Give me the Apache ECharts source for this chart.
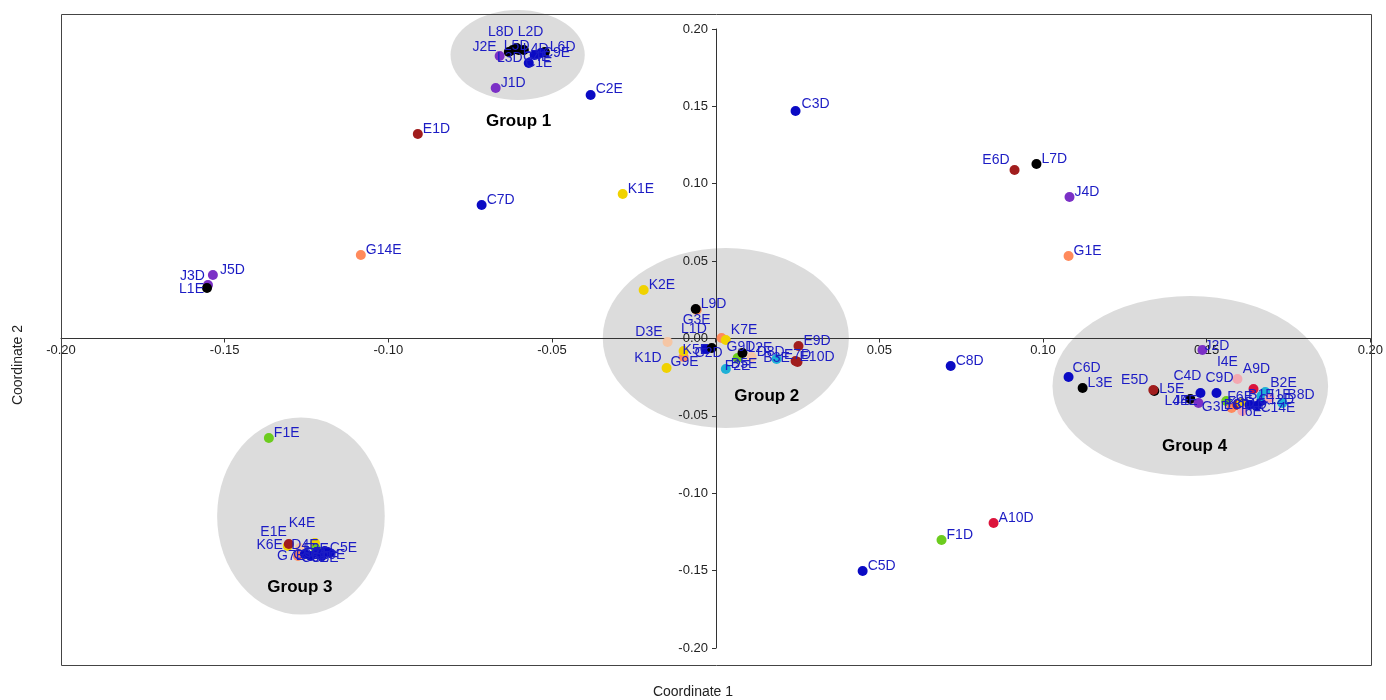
<!DOCTYPE html>
<html>
<head>
<meta charset="utf-8">
<title>PCoA – Coordinate 1 vs Coordinate 2</title>
<script src="https://cdn.jsdelivr.net/npm/echarts@6/dist/echarts.min.js"></script>
<style>
  html, body { margin: 0; padding: 0; background: #fff; }
  #chart { width: 1386px; height: 700px; }
</style>
</head>
<body>
<div id="chart"></div>
<script>
// ---- Sample coordinates [name, coordinate 1, coordinate 2] ----
const loosePoints = [
  ['E1D', -0.0910, 0.1321], ['C2E', -0.0382, 0.1573], ['C3D', 0.0244, 0.1470],
  ['C7D', -0.0715, 0.0863], ['K1E', -0.0284, 0.0934], ['G14E', -0.1084, 0.0540],
  ['J5D', -0.1536, 0.0410], ['J3D', -0.1551, 0.0346], ['L1E', -0.1554, 0.0326],
  ['K2E', -0.0220, 0.0313], ['E6D', 0.0913, 0.1089], ['L7D', 0.0980, 0.1128],
  ['J4D', 0.1081, 0.0914], ['G1E', 0.1078, 0.0533], ['C8D', 0.0718, -0.0178],
  ['C6D', 0.1078, -0.0249], ['L3E', 0.1121, -0.0320], ['L5E', 0.1340, -0.0339],
  ['E5D', 0.1337, -0.0333], ['C5D', 0.0449, -0.1502], ['F1D', 0.0690, -0.1302],
  ['A10D', 0.0849, -0.1192], ['F1E', -0.1365, -0.0643], ['J1D', -0.0672, 0.1619]
];
const group1Points = [
  ['J2E', -0.0660, 0.1826], ['L3D', -0.0632, 0.1851], ['L8D', -0.0620, 0.1864],
  ['L5D', -0.0608, 0.1877], ['L2D', -0.0602, 0.1864], ['L4D', -0.0586, 0.1864],
  ['L6D', -0.0522, 0.1851], ['C4E', -0.0553, 0.1832], ['C9E', -0.0534, 0.1845],
  ['C1E', -0.0571, 0.1780]
];
const group2Points = [
  ['G3E', -0.0058, 0.0184], ['L9D', -0.0061, 0.0191], ['D3E', -0.0147, -0.0023],
  ['K1D', -0.0150, -0.0191], ['G9E', -0.0098, -0.0120], ['K5E', -0.0098, -0.0081],
  ['C2D', -0.0031, -0.0068], ['L1D', -0.0012, -0.0061], ['G9D', 0.0018, 0.0003],
  ['K7E', 0.0031, -0.0010], ['F2E', 0.0067, -0.0126], ['L2E', 0.0082, -0.0094],
  ['D8D', 0.0110, -0.0120], ['B3E', 0.0186, -0.0132], ['E9D', 0.0253, -0.0048],
  ['E7D', 0.0244, -0.0145], ['E10D', 0.0250, -0.0152], ['B5E', 0.0031, -0.0197]
];
const group3Points = [
  ['K6E', -0.1307, -0.1341], ['E1E', -0.1304, -0.1328], ['K4E', -0.1224, -0.1321],
  ['F3E', -0.1221, -0.1360], ['D4E', -0.1270, -0.1354], ['G7E', -0.1276, -0.1405],
  ['C3E', -0.1255, -0.1393], ['C6E', -0.1237, -0.1405], ['C7E', -0.1218, -0.1386],
  ['C8E', -0.1203, -0.1405], ['C5E', -0.1194, -0.1373], ['C10E', -0.1179, -0.1386]
];
const group4Points = [
  ['J2D', 0.1487, -0.0074], ['I4E', 0.1594, -0.0262], ['A9D', 0.1643, -0.0326],
  ['C4D', 0.1481, -0.0352], ['C9D', 0.1530, -0.0352], ['L4E', 0.1450, -0.0391],
  ['J4E', 0.1475, -0.0417], ['F6E', 0.1560, -0.0404], ['G3D', 0.1576, -0.0449],
  ['E8D', 0.1594, -0.0430], ['K8D', 0.1606, -0.0417], ['I6E', 0.1609, -0.0468],
  ['C11D', 0.1631, -0.0430], ['C14E', 0.1652, -0.0436], ['C12D', 0.1667, -0.0404],
  ['B1E', 0.1667, -0.0372], ['B2E', 0.1679, -0.0346], ['I1E', 0.1692, -0.0384],
  ['B8D', 0.1731, -0.0417]
];

// ---- Group outlines ----
const groupNames = ['Group 1', 'Group 2', 'Group 3', 'Group 4'];
const groupCentres = [[-0.0605, 0.1832], [0.0031, 0.0003], [-0.1267, -0.1147], [0.1450, -0.0307]];
const groupRadii = [[0.0205, 0.0291], [0.0376, 0.0582], [0.0256, 0.0637], [0.0421, 0.0582]];
const groupLabelAt = [[-0.0602, 0.1405], [0.0156, -0.0372], [-0.1270, -0.1606], [0.1463, -0.0695]];

// ---- Axis ticks ----
const axisMin = -0.2, axisMax = 0.2, axisStep = 0.05;

// ---- Styling ----
const sampleColors = {
  A: '#dc143c', B: '#1eb0d6', C: '#0a0ac4', D: '#f5c6a5', E: '#a11d1d', F: '#6ccc1e',
  G: '#ff8a5c', I: '#f3a8b1', J: '#7b30c6', K: '#f0d200', L: '#000000'
};
// label placement per sample: [position, dx, dy]
const labelPlacement = {
  'C3D': ['right', 1, -7], 'C2E': ['right', 0, -6], 'E6D': ['left', 0, -10],
  'J3D': ['left', 2, -9], 'L1E': ['left', 2, 1], 'J5D': ['right', 2, -5],
  'J2E': ['left', 2, -9], 'L8D': ['top', -12, -6], 'L2D': ['top', 12, -6],
  'L3D': ['inside', 1, 6], 'L4D': ['right', -6, -1], 'C1E': ['inside', 10, 0],
  'C4E': ['inside', 2, 2], 'C9E': ['right', -3, 0], 'L5D': ['inside', 0, -2],
  'G3E': ['bottom', 0, -2], 'D3E': ['left', 0, -10], 'K1D': ['left', 0, -10],
  'G9E': ['inside', 1, 5], 'K5E': ['right', -6, -1], 'C2D': ['inside', 3, 4],
  'L1D': ['left', 0, -19], 'G9D': ['right', 0, 9], 'K7E': ['right', 0, -10],
  'B3E': ['inside', 0, -1], 'E7D': ['inside', 2, -6], 'E10D': ['right', -3, -5],
  'F2E': ['bottom', 0, -4], 'E1E': ['left', 3, -12], 'K6E': ['left', 0, -1],
  'K4E': ['top', -13, -8], 'D4E': ['inside', 5, -3], 'G7E': ['inside', -7, 0],
  'C3E': ['inside', 2, 1], 'C6E': ['inside', 4, 2], 'C7E': ['inside', 0, 0],
  'C8E': ['inside', 3, 2], 'C10E': ['inside', -2, 2], 'C5E': ['right', 0, -3],
  'F3E': ['inside', 0, 0], 'I4E': ['top', -10, -5], 'A9D': ['top', 3, -8],
  'C4D': ['left', 6, -17], 'C9D': ['top', 3, -3], 'L4E': ['left', 4, 2],
  'J4E': ['left', 4, -2], 'G3D': ['left', 4, -1], 'F6E': ['right', -4, -4],
  'E8D': ['inside', 0, 0], 'K8D': ['inside', 0, 0], 'I6E': ['inside', 9, 1],
  'C11D': ['inside', 0, 0], 'C14E': ['right', -1, 2], 'C12D': ['right', -8, -1],
  'B1E': ['inside', 0, -1], 'B2E': ['right', 0, -9], 'I1E': ['right', -4, -3],
  'B8D': ['right', 0, -8], 'C6D': ['right', -1, -9], 'E5D': ['left', 0, -10],
  'L5E': ['right', 0, -2], 'J2D': ['right', -3, -4]
};
const defaultPlacement = ['right', 0, -5];

const FONT = '"Liberation Sans", Arial, sans-serif';

// plot area in pixels; the axes cross at the centre of it
const GRID = { left: 61, right: 15, top: 29, bottom: 52 };
const plotW = 1386 - GRID.left - GRID.right;
const plotH = 700 - GRID.top - GRID.bottom;

const allPoints = [].concat(loosePoints, group1Points, group2Points, group3Points, group4Points);
const placements = allPoints.map(p => labelPlacement[p[0]] || defaultPlacement);

const scatterData = allPoints.map((p, i) => ({
  name: p[0],
  value: [p[1], p[2]],
  itemStyle: { color: sampleColors[p[0][0]], opacity: 1 },
  label: { position: placements[i][0] }
}));

const groupData = groupNames.map((g, i) => ({
  name: g,
  value: [groupCentres[i][0], groupCentres[i][1], groupRadii[i][0], groupRadii[i][1],
          groupLabelAt[i][0], groupLabelAt[i][1]]
}));

function tickText(v) {
  if (Math.abs(v) < 1e-9) return '0.00';
  return v.toFixed(2);
}

const chart = echarts.init(document.getElementById('chart'), null, { renderer: 'canvas' });

chart.setOption({
  animation: false,
  backgroundColor: '#ffffff',
  grid: { left: GRID.left, right: GRID.right, top: GRID.top, bottom: GRID.bottom, containLabel: false },
  xAxis: {
    type: 'value', min: axisMin, max: axisMax, interval: axisStep,
    position: 'bottom', offset: -plotH / 2,
    axisLine: { onZero: false, lineStyle: { color: '#333', width: 1 } },
    axisTick: { show: true, length: 4, lineStyle: { color: '#333' } },
    splitLine: { show: false },
    axisLabel: {
      margin: 5, fontSize: 13, color: '#222', fontFamily: FONT,
      formatter: v => (Math.abs(v) < 1e-9 ? '' : tickText(v))
    }
  },
  yAxis: {
    type: 'value', min: axisMin, max: axisMax, interval: axisStep,
    position: 'left', offset: -plotW / 2,
    axisLine: { onZero: false, lineStyle: { color: '#333', width: 1 } },
    axisTick: { show: true, length: 4, lineStyle: { color: '#333' } },
    splitLine: { show: false },
    axisLabel: { margin: 8, fontSize: 13, color: '#222', fontFamily: FONT, formatter: tickText }
  },
  graphic: [
    {
      type: 'rect', z: 100, silent: true,
      shape: { x: 61.5, y: 14.5, width: 1310, height: 651 },
      style: { fill: 'none', stroke: '#444', lineWidth: 1 }
    },
    {
      type: 'text', left: 'center', top: 685, z: 100,
      style: { text: 'Coordinate 1', fontSize: 14, fontFamily: FONT, fill: '#222' }
    },
    {
      type: 'text', x: 18, y: 365, rotation: Math.PI / 2, z: 100,
      style: { text: 'Coordinate 2', fontSize: 14, fontFamily: FONT, fill: '#222',
               align: 'center', verticalAlign: 'middle' }
    }
  ],
  series: [
    {
      type: 'custom',
      z: -1,
      clip: false,
      silent: true,
      encode: { x: 0, y: 1 },
      data: groupData,
      renderItem: function (params, api) {
        const c = api.coord([api.value(0), api.value(1)]);
        const s = api.size([api.value(2), api.value(3)]);
        const t = api.coord([api.value(4), api.value(5)]);
        return {
          type: 'group',
          children: [
            {
              type: 'circle',
              x: c[0], y: c[1],
              scaleY: s[1] / s[0],
              shape: { cx: 0, cy: 0, r: s[0] },
              style: { fill: '#dcdcdc' }
            },
            {
              type: 'text',
              x: t[0], y: t[1],
              style: {
                text: groupNames[params.dataIndex],
                fill: '#000', font: 'bold 17px ' + FONT,
                align: 'center', verticalAlign: 'middle'
              }
            }
          ]
        };
      }
    },
    {
      type: 'scatter',
      symbol: 'circle',
      symbolSize: 10,
      z: 5,
      data: scatterData,
      itemStyle: { opacity: 1 },
      label: {
        show: true,
        formatter: '{b}',
        distance: 0,
        color: '#1c1cc4',
        fontSize: 14,
        fontFamily: FONT
      },
      labelLayout: function (params) {
        const pl = placements[params.dataIndex];
        return { dx: pl[1], dy: pl[2], hideOverlap: false };
      },
      emphasis: { disabled: true }
    }
  ]
});
</script>
</body>
</html>
